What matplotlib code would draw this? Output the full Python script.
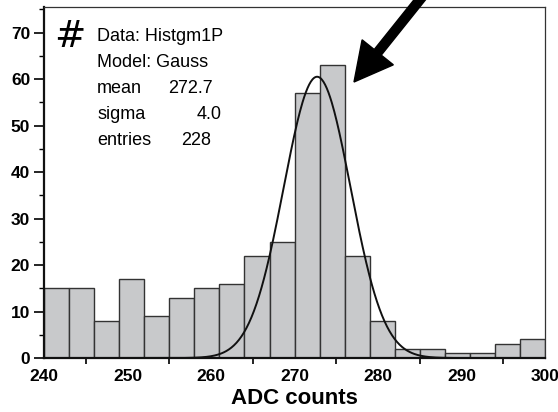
import numpy as np
import matplotlib.pyplot as plt
from matplotlib.patches import FancyArrow
from matplotlib.ticker import MultipleLocator, FixedLocator
from matplotlib.transforms import IdentityTransform

plt.rcParams['font.family'] = ['Liberation Sans', 'DejaVu Sans']

# histogram (3 ADC wide bins from 240 to 300)
bin_edges = np.arange(240, 301, 3)
counts = [15, 15, 8, 17, 9, 13, 15, 16, 22, 25,
          57, 63, 22, 8, 2, 2, 1, 1, 3, 4]

# gaussian fit parameters
g_mean = 272.7
g_sigma = 4.0
g_amp = 60.5
entries = 228

fig = plt.figure(figsize=(5.58, 4.12), dpi=100)
ax = fig.add_axes([0.0789, 0.131, 0.898, 0.852])

ax.bar(bin_edges[:-1], counts, width=3, align='edge',
       color='#c8c9cb', edgecolor='#333333', linewidth=1.0, zorder=2)

xs = np.linspace(240, 300, 600)
ax.plot(xs, g_amp * np.exp(-0.5 * ((xs - g_mean) / g_sigma) ** 2),
        color='#111111', lw=1.4, zorder=3)

ax.set_xlim(240, 300)
ax.set_ylim(0, 75.5)

ax.xaxis.set_major_locator(MultipleLocator(10))
ax.xaxis.set_minor_locator(FixedLocator(np.arange(245, 300, 10)))
ax.yaxis.set_major_locator(MultipleLocator(10))
ax.yaxis.set_minor_locator(MultipleLocator(5))

ax.tick_params(axis='x', which='major', length=0, pad=8, labelsize=12.5)
ax.tick_params(axis='x', which='minor', direction='inout', length=8,
               width=1.3, color='#111111')
ax.tick_params(axis='y', which='major', direction='out', length=7,
               width=1.2, pad=3, labelsize=12.5)
ax.tick_params(axis='y', which='minor', direction='out', length=3.5, width=1.0)
for lab in ax.get_xticklabels() + ax.get_yticklabels():
    lab.set_fontweight('bold')

for side in ['left', 'bottom']:
    ax.spines[side].set_linewidth(1.6)
    ax.spines[side].set_color('#111111')
for side in ['top', 'right']:
    ax.spines[side].set_linewidth(0.9)
    ax.spines[side].set_color('#333333')
ax.spines['bottom'].set_zorder(4)

ax.set_xlabel('ADC counts', fontsize=16, fontweight='bold', labelpad=3)

# fit info box
ax.text(54, 412 - 47, '#', transform=IdentityTransform(), fontsize=27,
        family='DejaVu Sans', va='baseline', ha='left')
info_left = ['Data: Histgm1P', 'Model: Gauss', 'mean', 'sigma', 'entries']
info_right = ['', '', f'{g_mean:.1f}', f'{g_sigma:.1f}', f'{entries}']
right_edges = [0, 0, 213, 222, 211]
for i, (l, r) in enumerate(zip(info_left, info_right)):
    y = 412 - (41 + i * 26)
    ax.text(97, y, l, transform=IdentityTransform(), fontsize=13,
            va='baseline', ha='left')
    if r:
        ax.text(right_edges[i], y, r, transform=IdentityTransform(),
                fontsize=13, va='baseline', ha='right')

# pointer arrow toward the peak
arrow = FancyArrow(426, 420, -72, -90, width=9, head_width=40,
                   head_length=38, length_includes_head=True,
                   color='black', transform=IdentityTransform())
fig.add_artist(arrow)

fig.savefig('out.png', dpi=100)
